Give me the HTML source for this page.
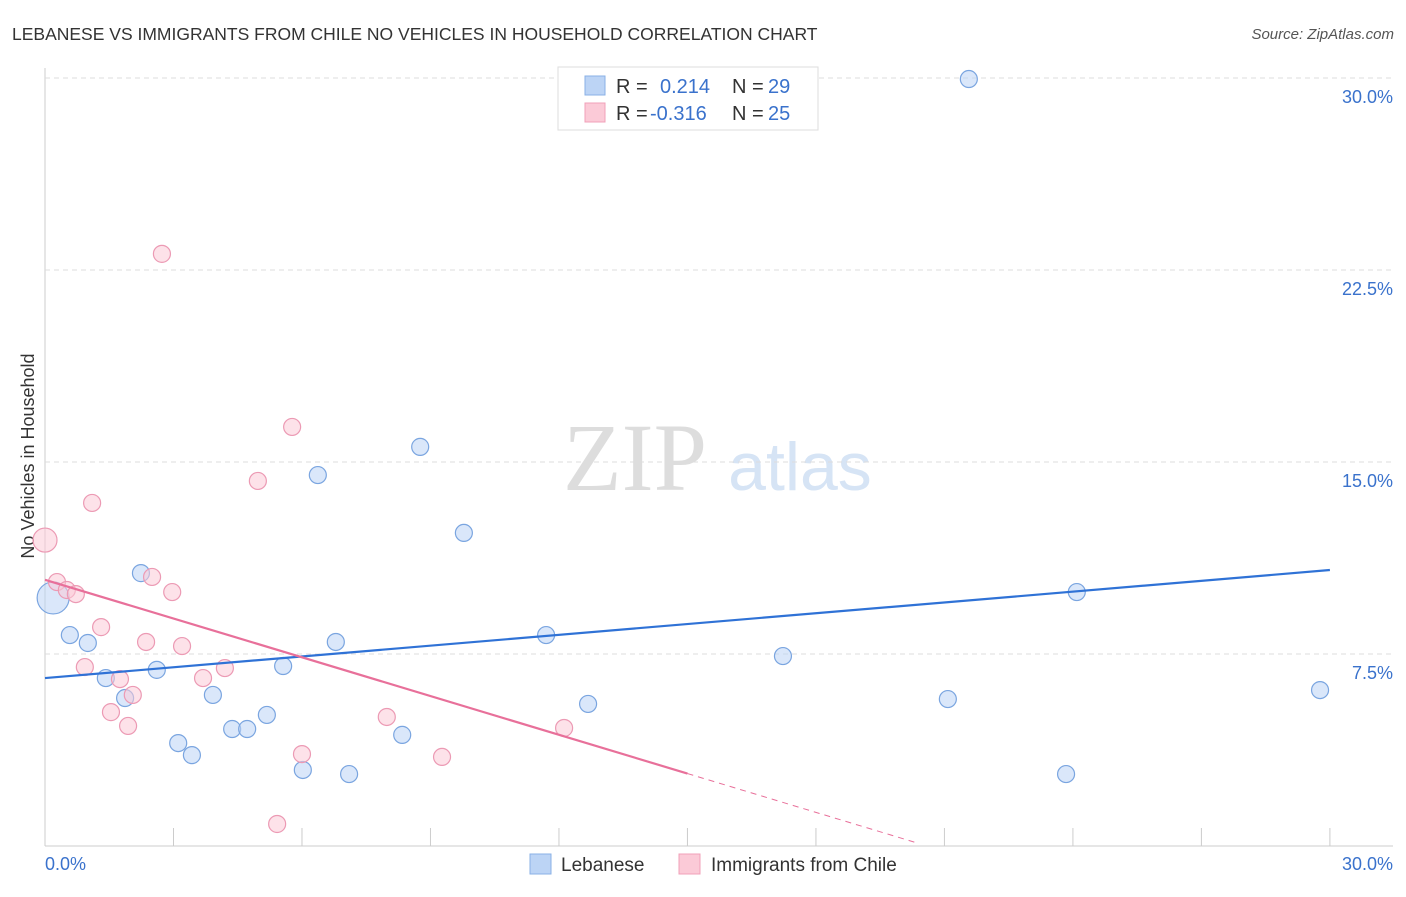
<!DOCTYPE html>
<html><head><meta charset="utf-8"><style>
body{margin:0;background:#fff;font-family:"Liberation Sans",sans-serif;}
svg text{font-family:"Liberation Sans",sans-serif;}
</style></head><body>
<svg id="chart" width="1406" height="892">
<text x="12" y="40" font-size="17.5" fill="#333">LEBANESE VS IMMIGRANTS FROM CHILE NO VEHICLES IN HOUSEHOLD CORRELATION CHART</text>
<text x="1394" y="39" font-size="15" fill="#555" font-style="italic" text-anchor="end">Source: ZipAtlas.com</text>
<text x="34" y="456" font-size="18" fill="#333" text-anchor="middle" transform="rotate(-90 34 456)">No Vehicles in Household</text>
<g><text x="635" y="490" font-size="96" fill="#ddd" font-family="Liberation Serif" text-anchor="middle" style="font-family:'Liberation Serif',serif">ZIP</text><text x="800" y="490" font-size="68" fill="#d6e4f5" text-anchor="middle">atlas</text></g>
<g id="grid"></g><g id="marks"></g>
<g>
<rect x="558" y="67" width="260" height="63" fill="#fff" stroke="#ddd"/>
<rect x="585" y="76" width="20" height="19" fill="#bcd4f5" stroke="#8ab0e6"/>
<rect x="585" y="103" width="20" height="19" fill="#fbcad7" stroke="#f0a0b8"/>
<text x="616" y="93" font-size="20" fill="#333">R =</text><text x="660" y="93" font-size="20" fill="#3a72cc">0.214</text>
<text x="732" y="93" font-size="20" fill="#333">N =</text><text x="768" y="93" font-size="20" fill="#3a72cc">29</text>
<text x="616" y="120" font-size="20" fill="#333">R =</text><text x="650" y="120" font-size="20" fill="#3a72cc">-0.316</text>
<text x="732" y="120" font-size="20" fill="#333">N =</text><text x="768" y="120" font-size="20" fill="#3a72cc">25</text>
</g>
<g>
<rect x="530" y="854" width="21" height="20" fill="#bcd4f5" stroke="#8ab0e6"/><text x="561" y="871" font-size="19" fill="#333">Lebanese</text>
<rect x="679" y="854" width="21" height="20" fill="#fbcad7" stroke="#f0a0b8"/><text x="711" y="871" font-size="19" fill="#333">Immigrants from Chile</text>
</g>
</svg>
<script>
const yTicks=[7.5,15,22.5,30];
const yTickLabels=["7.5%","15.0%","22.5%","30.0%"];
const xTickLabels=["0.0%","30.0%"];
const blueX=[21.57,8.76,6.37,9.78,2.24,24.09,0.19,0.58,1.0,6.79,11.7,17.23,2.61,5.56,1.42,1.87,3.92,21.08,29.77,12.68,5.18,4.37,4.72,8.34,3.11,3.43,6.02,7.1,23.84];
const blueY=[29.96,15.59,14.49,12.23,10.66,9.92,9.69,8.24,7.93,7.97,8.24,7.42,6.88,7.03,6.56,5.78,5.9,5.74,6.09,5.55,5.12,4.57,4.57,4.34,4.02,3.55,2.97,2.81,2.81];
const pinkX=[2.73,5.77,4.97,1.1,0,0.28,0.51,0.72,2.5,2.97,1.31,2.36,3.2,0.93,4.2,1.75,3.69,2.05,1.54,1.94,7.98,12.12,6.0,9.27,5.42];
const pinkY=[23.13,16.37,14.26,13.4,11.95,10.31,10.0,9.84,10.51,9.92,8.55,7.97,7.81,6.99,6.95,6.52,6.56,5.9,5.23,4.69,5.04,4.61,3.59,3.48,0.86];
const blueLine=[[0,6.56],[30,10.78]];
const pinkLine=[[0,10.4],[15,2.83]];
const pinkDash=[[15,2.83],[20.4,0.1]];
const X=v=>45+v*42.83, Y=v=>846-v*25.6;
const NS="http://www.w3.org/2000/svg";
const grid=document.getElementById('grid'), marks=document.getElementById('marks');
function mk(p,tag,a){const e=document.createElementNS(NS,tag);for(const k in a)e.setAttribute(k,a[k]);p.appendChild(e);return e;}
let ax=mk(grid,'line',{x1:45,y1:68,x2:45,y2:846,stroke:'#ccc'});


let bx=mk(grid,'line',{x1:45,y1:846,x2:1393,y2:846,stroke:'#ccc'});


for(let i=1;i<=10;i++){let t=mk(grid,'line',{x1:X(i*3),y1:828,x2:X(i*3),y2:846,stroke:'#ccc'});

}
yTicks.forEach((v,i)=>{let g=mk(grid,'line',{x1:45,y1:Y(v),x2:1393,y2:Y(v),stroke:'#ddd','stroke-dasharray':'5,4'});


let t=mk(grid,'text',{x:1393,y:Y(v)+25,'font-size':18,fill:'#3a72cc','text-anchor':'end'});t.textContent=yTickLabels[i];

});
[[45,'start'],[1393,'end']].forEach((p,i)=>{let t=mk(grid,'text',{x:p[0],y:870,'font-size':18,fill:'#3a72cc','text-anchor':p[1]});t.textContent=xTickLabels[i];

});
function pts(xs,ys,fill,stroke,name,big){xs.forEach((x,i)=>{let r=(i===big)?(name==='lebanese-point'?16:12):8.5;
let c=mk(marks,'circle',{cx:X(x),cy:Y(ys[i]),r:r,fill:fill,'fill-opacity':0.55,stroke:stroke,'stroke-width':1.2});

});}
pts(blueX,blueY,'#bcd4f5','#7aa5e0','lebanese-point',6);
pts(pinkX,pinkY,'#fbcad7','#ec9ab4','chile-point',4);
function ln(d,col,name,dash){let l=mk(marks,'line',{x1:X(d[0][0]),y1:Y(d[0][1]),x2:X(d[1][0]),y2:Y(d[1][1]),stroke:col,'stroke-width':dash?1:2.2});
if(dash)l.setAttribute('stroke-dasharray','6,5');

}
ln(blueLine,'#2f72d6','lebanese-trend-line');
ln(pinkLine,'#e8709a','chile-trend-line');
ln(pinkDash,'#e8709a','chile-trend-extension',true);
</script>
</body></html>
